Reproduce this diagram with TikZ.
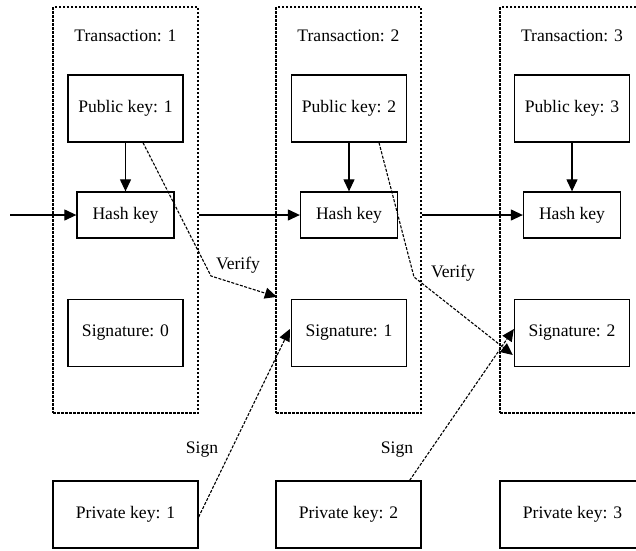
\documentclass[tikz,border=0pt]{standalone}
\usepackage{fontspec}
\setmainfont{Liberation Serif}
\usetikzlibrary{arrows.meta}
\begin{document}
\begin{tikzpicture}[x=1pt,y=-1pt,
  txbox/.style={draw, dash pattern=on 2.5pt off 1.5pt, line width=1.2pt, minimum width=145pt, minimum height=406pt, inner sep=0pt},
  keybox/.style={draw, line width=1.3pt, minimum width=115pt, minimum height=67pt, inner sep=0pt, font=\fontsize{17.6}{20}\selectfont},
  hashbox/.style={draw, line width=1.3pt, minimum width=97pt, minimum height=46pt, inner sep=0pt, font=\fontsize{17.6}{20}\selectfont},
  privbox/.style={draw, line width=1.3pt, minimum width=145pt, minimum height=67pt, inner sep=0pt, font=\fontsize{17.6}{20}\selectfont},
  lbl/.style={font=\fontsize{17.6}{20}\selectfont, inner sep=0pt},
  solidarrow/.style={line width=1.2pt, -{Triangle[length=12pt,width=11pt]}},
  dasharrow/.style={line width=1.1pt, dash pattern=on 3pt off 1.5pt, -{Triangle[length=12pt,width=11pt]}}
]
\useasboundingbox (0,0) rectangle (636,550);
\clip (0,0) rectangle (636,550);
% transaction boxes
\node[txbox] (t1) at (125.5,210) {};
\node[txbox] (t2) at (348.5,210) {};
\node[txbox] (t3) at (572.5,210) {};
\node[lbl] (tt1) at (125.5,36) {Transaction: 1};
\node[lbl] (tt2) at (348.5,36) {Transaction: 2};
\node[lbl] (tt3) at (572,36) {Transaction: 3};
% public keys
\node[keybox] (pub1) at (125.5,108.5) {Public key: 1};
\node[keybox] (pub2) at (349,108.5) {Public key: 2};
\node[keybox] (pub3) at (572,108.5) {Public key: 3};
% hash keys
\node[hashbox] (h1) at (125.5,215) {Hash key};
\node[hashbox] (h2) at (349,215) {Hash key};
\node[hashbox] (h3) at (572,215) {Hash key};
% signatures
\node[keybox] (s0) at (125.5,333) {Signature: 0};
\node[keybox] (s1) at (349,333) {Signature: 1};
\node[keybox] (s2) at (572,333) {Signature: 2};
% private keys
\node[privbox] (p1) at (125.5,514.5) {Private key: 1};
\node[privbox] (p2) at (348.5,514.5) {Private key: 2};
\node[privbox] (p3) at (572.5,514.5) {Private key: 3};
% solid arrows
\coordinate (in) at (10,215);
\draw[solidarrow] (in) -- (h1.west);
\draw[solidarrow] (pub1) -- (h1);
\draw[solidarrow] (pub2) -- (h2);
\draw[solidarrow] (pub3) -- (h3);
\draw[solidarrow] (t1.east |- h1.east) -- (h2.west);
\draw[solidarrow] (t2.east |- h2.east) -- (h3.west);
% verify
\coordinate (k1) at (211,276);
\coordinate (k2) at (414,277);
\draw[dasharrow] ([xshift=17.5pt]pub1.south) -- (k1) -- ([xshift=-14pt,yshift=2pt]s1.north west);
\draw[dasharrow] ([xshift=30pt]pub2.south) -- (k2) -- ([xshift=-1pt,yshift=-22pt]s2.west);
\node[lbl] (v1) at (238,265) {Verify};
\node[lbl] (v2) at (453,273) {Verify};
% sign
\draw[dasharrow] ([yshift=-2.5pt]p1.east) -- ([xshift=-1pt,yshift=4pt]s1.west);
\draw[dasharrow] ([xshift=-12pt]p2.north east) -- ([yshift=4pt]s2.west);
\node[lbl] (g1) at (202,450) {Sign};
\node[lbl] (g2) at (397,450) {Sign};
\end{tikzpicture}
\end{document}
